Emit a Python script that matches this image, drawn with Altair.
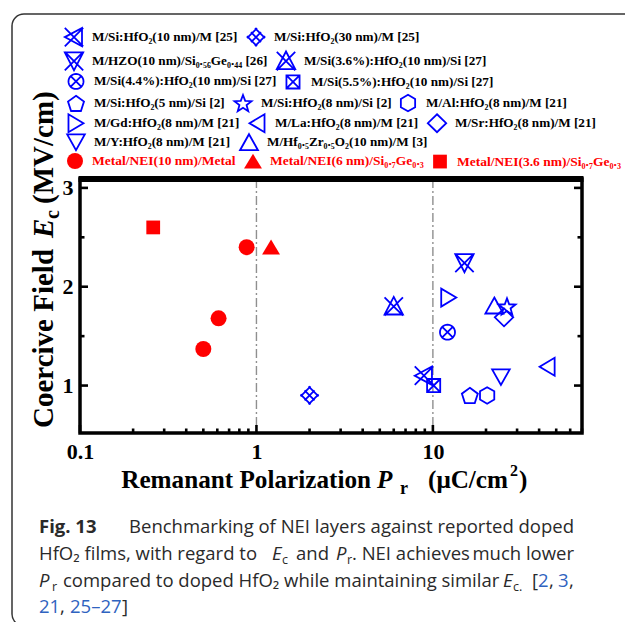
import numpy as np
import pandas as pd
import altair as alt

SERIF = "Liberation Serif"
SANS = "Open Sans"
BLUE = "#0000ff"
RED = "#ff0000"
INK = "#2a2a2a"
LINK = "#2f63c0"

# ---------------- data ----------------
# legend rows, in the order they are printed above the plot
ROW_1 = ["M/Si:HfO₂(10 nm)/M [25]", "M/Si:HfO₂(30 nm)/M [25]"]
ROW_2 = ["M/HZO(10 nm)/Si₀.₅₆Ge₀.₄₄ [26]", "M/Si(3.6%):HfO₂(10 nm)/Si [27]"]
ROW_3 = ["M/Si(4.4%):HfO₂(10 nm)/Si [27]", "M/Si(5.5%):HfO₂(10 nm)/Si [27]"]
ROW_4 = ["M/Si:HfO₂(5 nm)/Si [2]", "M/Si:HfO₂(8 nm)/Si [2]", "M/Al:HfO₂(8 nm)/M [21]"]
ROW_5 = ["M/Gd:HfO₂(8 nm)/M [21]", "M/La:HfO₂(8 nm)/M [21]", "M/Sr:HfO₂(8 nm)/M [21]"]
ROW_6 = ["M/Y:HfO₂(8 nm)/M [21]", "M/Hf₀.₅Zr₀.₅O₂(10 nm)/M [3]"]
ROW_NEI = ["Metal/NEI(10 nm)/Metal", "Metal/NEI(6 nm)/Si₀.₇Ge₀.₃", "Metal/NEI(3.6 nm)/Si₀.₇Ge₀.₃"]

# one entry per plotted point
POINT_LABEL = [
    ROW_1[0], ROW_1[1],
    ROW_2[0], ROW_2[1],
    ROW_3[0], ROW_3[1],
    ROW_4[0], ROW_4[1], ROW_4[2],
    ROW_5[0], ROW_5[1], ROW_5[2],
    ROW_6[0], ROW_6[1],
    ROW_NEI[0], ROW_NEI[0], ROW_NEI[0], ROW_NEI[1], ROW_NEI[2],
]
PR = [8.9, 2.0, 15.1, 6.0, 12.1, 10.1, 16.2, 26.3, 20.3, 12.3, 44.4, 25.3, 24.3, 22.3,
      0.88, 0.61, 0.50, 1.21, 0.26]          # remanent polarization, uC/cm2
EC = [1.10, 0.90, 2.24, 1.80, 1.54, 1.00, 0.90, 1.80, 0.90, 1.89, 1.19, 1.69, 1.085, 1.81,
      2.40, 1.68, 1.37, 2.40, 2.60]          # coercive field, MV/cm

X_MAJOR = [0.1, 1, 10]
X_MINOR = [0.2, 0.3, 0.4, 0.5, 0.6, 0.7, 0.8, 0.9,
           2, 3, 4, 5, 6, 7, 8, 9, 20, 30, 40, 50, 60, 70]
Y_MAJOR = [1, 2, 3]
Y_MINOR = [1.5, 2.5]
REF_LINES = [1, 10]

points = pd.DataFrame({"label": POINT_LABEL, "pr": PR, "ec": EC})

# ---------------- symbol outlines (unit box -1..1) ----------------
def _path(pts, close=False):
    s = " ".join(("M" if i == 0 else "L") + f"{x:.3f},{y:.3f}" for i, (x, y) in enumerate(pts))
    return s + (" Z" if close else "")

def poly(pts):
    return _path(pts, close=True)

def seg(a, b):
    return _path([a, b])

def cross(h):
    return seg((-h, -h), (h, h)) + " " + seg((-h, h), (h, -h))

def regular(n, r, start=-90.0, yshift=0.0):
    t = np.deg2rad(start + 360.0 * np.arange(n) / n)
    return [(r * np.cos(a), r * np.sin(a) + yshift) for a in t]

def star(r_out, r_in, yshift=0.0):
    t = np.deg2rad(-90.0 + 36.0 * np.arange(10))
    rr = [r_out if i % 2 == 0 else r_in for i in range(10)]
    return [(r * np.cos(a), r * np.sin(a) + yshift) for r, a in zip(rr, t)]

def lattice(k=1.0, e=0.25):
    parts = []
    d0, d1 = -k - e, k + e
    for c in (-k, 0.0, k):
        parts.append(seg(((d0 - c) / 2, (d0 + c) / 2), ((d1 - c) / 2, (d1 + c) / 2)))
        parts.append(seg(((c - d0) / 2, (c + d0) / 2), ((c - d1) / 2, (c + d1) / 2)))
    return " ".join(parts)

SHAPES_1 = [poly([(-1.15, 0), (1.0, -1.15), (1.0, 1.15)]) + " " + cross(1.15),
            lattice()]
SHAPES_2 = [poly([(-1.15, -1.1), (1.15, -1.1), (0, 1.15)]) + " " + cross(1.15),
            poly([(0, -1.2), (1.15, 1.0), (-1.15, 1.0)]) + " " + cross(1.15)]
SHAPES_3 = [poly(regular(32, 0.94)) + " " + cross(0.66),
            poly([(-0.82, -0.82), (0.82, -0.82), (0.82, 0.82), (-0.82, 0.82)]) + " " + cross(0.82)]
SHAPES_4 = [poly(regular(5, 1.05, yshift=0.1)),
            poly(star(1.12, 0.47, yshift=0.1)),
            poly(regular(6, 1.03))]
SHAPES_5 = [poly([(0.94, 0), (-0.94, -1.12), (-0.94, 1.12)]),
            poly([(-0.94, 0), (0.94, -1.12), (0.94, 1.12)]),
            poly([(0, -1.12), (1.15, 0), (0, 1.12), (-1.15, 0)])]
SHAPES_6 = [poly([(-1.1, -0.98), (1.1, -0.98), (0, 0.98)]),
            poly([(0, -1.0), (1.12, 1.0), (-1.12, 1.0)])]
SHAPES_NEI = ["circle",
              poly([(0, -0.95), (1.12, 0.9), (-1.12, 0.9)]),
              poly([(-0.86, -0.86), (0.86, -0.86), (0.86, 0.86), (-0.86, 0.86)])]

# ---------------- geometry of the page ----------------
OX, OY = 80, 179          # plot-area origin on the page
W, H = 502, 254           # plot area
PAGE_W, PAGE_H = 625, 622

XS = alt.Scale(type="log", domain=[0.1, 70], nice=False)
YS = alt.Scale(domain=[0.52, 3.09], nice=False, zero=False)

XAXIS = alt.Axis(values=X_MAJOR, format="~g", title=None, ticks=False, domain=False, grid=False,
                 labelFont=SERIF, labelFontWeight="bold", labelFontSize=22, labelColor="black",
                 labelPadding=8, labelFlush=False, labelOverlap=False)
YAXIS = alt.Axis(values=Y_MAJOR, format="d", title=None, ticks=False, domain=False, grid=False,
                 labelFont=SERIF, labelFontWeight="bold", labelFontSize=22, labelColor="black",
                 labelPadding=7, labelOverlap=False)


def xenc():
    return alt.X("pr:Q", scale=XS, axis=XAXIS)


def yenc():
    return alt.Y("ec:Q", scale=YS, axis=YAXIS)


ONE = pd.DataFrame({"k": [0]})


def txt(s, x, y, size, font=SERIF, weight="bold", style="normal", color="black",
        angle=0, align="left"):
    return alt.Chart(ONE).mark_text(
        text=s, font=font, fontSize=size, fontWeight=weight, fontStyle=style,
        color=color, angle=angle, align=align, baseline="alphabetic"
    ).encode(x=alt.value(x - OX), y=alt.value(y - OY))


def series_row(labels, shapes, row_y, red=False, lx=-13):
    legend = alt.Legend(
        orient="none", legendX=lx, legendY=row_y - 8 - OY, direction="horizontal",
        columns=len(labels), title=None, padding=0, labelLimit=0, labelOffset=9,
        columnPadding=8 if red else 5, labelFont=SERIF, labelFontWeight="bold",
        labelFontSize=13.5 if red else 13.2,
        labelColor=RED if red else "black", symbolSize=256,
        symbolStrokeWidth=0 if red else 1.8,
        symbolStrokeColor=RED if red else BLUE,
        symbolFillColor=RED if red else "transparent",
    )
    sub = points[points["label"].isin(labels)]
    if red:
        mark = alt.Chart(sub).mark_point(filled=True, color=RED, size=256, opacity=1, strokeWidth=0)
    else:
        mark = alt.Chart(sub).mark_point(filled=False, color=BLUE, size=256, opacity=1, strokeWidth=1.8)
    return mark.encode(
        x=xenc(), y=yenc(),
        shape=alt.Shape("label:N", scale=alt.Scale(domain=labels, range=shapes), legend=legend),
    )


# rounded outer frame of the figure panel
frame = alt.Chart(ONE).mark_rect(
    fill=None, stroke="#333333", strokeWidth=1.5, cornerRadius=12
).encode(x=alt.value(12 - OX), x2=alt.value(640 - OX), y=alt.value(14 - OY), y2=alt.value(626 - OY))

# dash-dot guides at the decades
guides = alt.Chart(pd.DataFrame({"pr": REF_LINES})).mark_rule(
    color="#8f8f8f", strokeWidth=1.4, strokeDash=[9, 3, 2, 3]
).encode(x=xenc(), y=alt.value(0), y2=alt.value(H))

# inward ticks
def xticks(vals, length):
    return alt.Chart(pd.DataFrame({"pr": vals})).mark_rule(color="black", strokeWidth=2.6).encode(
        x=xenc(), y=alt.value(H), y2=alt.value(H - length))


def yticks(vals, length):
    d = pd.DataFrame({"ec": vals})
    left = alt.Chart(d).mark_rule(color="black", strokeWidth=2.6).encode(
        y=yenc(), x=alt.value(0), x2=alt.value(length))
    right = alt.Chart(d).mark_rule(color="black", strokeWidth=2.6).encode(
        y=yenc(), x=alt.value(W - length), x2=alt.value(W))
    return [left, right]


top_edge = alt.Chart(ONE).mark_rule(color="black", strokeWidth=6).encode(
    x=alt.value(-1.5), x2=alt.value(W + 1.5), y=alt.value(0))

rows = [
    series_row(ROW_1, SHAPES_1, 36, lx=-15),
    series_row(ROW_2, SHAPES_2, 60, lx=-15),
    series_row(ROW_3, SHAPES_3, 80),
    series_row(ROW_4, SHAPES_4, 102),
    series_row(ROW_5, SHAPES_5, 122),
    series_row(ROW_6, SHAPES_6, 141),
    series_row(ROW_NEI, SHAPES_NEI, 161, red=True),
]

# axis titles
XT = 25.2
x_title = [
    txt("Remanant Polarization", 371, 488, XT, align="right"),
    txt("P", 377, 488, XT, style="italic"),
    txt("r", 400, 494, 18),
    txt("(μC/cm", 428, 488, XT),
    txt("2", 510, 476, 16),
    txt(")", 519, 488, XT),
]
y_title = [
    txt("Coercive Field", 53, 428, 29, angle=270),
    txt("E", 53, 238, 29, style="italic", angle=270),
    txt("c", 59, 219, 20, angle=270),
    txt("(MV/cm)", 53, 204, 29, angle=270),
]

# caption below the plot
CAP = 18.5
SUB = 12.5


def cap(s, x, y, size=CAP, weight="normal", style="normal", color=INK, align="left"):
    return txt(s, x, y, size, font=SANS, weight=weight, style=style, color=color, align=align)


caption = [
    cap("Fig. 13", 39, 533, weight="bold"),
    cap("Benchmarking of NEI layers against reported doped", 574, 533, align="right"),
    cap("HfO₂ films, with regard to", 39, 560),
    cap("E", 272, 560, style="italic"),
    cap("c", 282, 564, size=SUB),
    cap("and", 296, 560),
    cap("P", 336, 560, style="italic"),
    cap("r", 347, 564, size=SUB),
    cap(". NEI achieves", 352, 560),
    cap("much lower", 574, 560, align="right"),
    cap("P", 39, 587, style="italic"),
    cap("r", 52, 591, size=SUB),
    cap("compared to doped HfO₂ while maintaining similar", 63, 587),
    cap("E", 503, 587, style="italic"),
    cap("c.", 513, 591, size=SUB),
    cap("[", 532, 587),
    cap("2", 538, 587, color=LINK),
    cap(",", 549, 587),
    cap("3", 558, 587, color=LINK),
    cap(",", 569, 587),
    cap("21", 39, 613, color=LINK),
    cap(",", 60, 613),
    cap("25–27", 70, 613, color=LINK),
    cap("]", 122, 613),
]

layers = ([frame, guides, xticks(X_MAJOR, 8), xticks(X_MINOR, 4.5)]
          + yticks(Y_MAJOR, 8) + yticks(Y_MINOR, 4.5)
          + [top_edge] + rows + x_title + y_title + caption)

chart = alt.layer(*layers).resolve_scale(shape="independent").properties(
    width=W, height=H,
    autosize=alt.AutoSizeParams(type="none"),
    padding={"left": OX, "top": OY, "right": PAGE_W - OX - W, "bottom": PAGE_H - OY - H},
    background="white",
).configure_view(stroke="black", strokeWidth=3.5)

chart.save("out.html", embed_options={"renderer": "svg", "actions": False})
